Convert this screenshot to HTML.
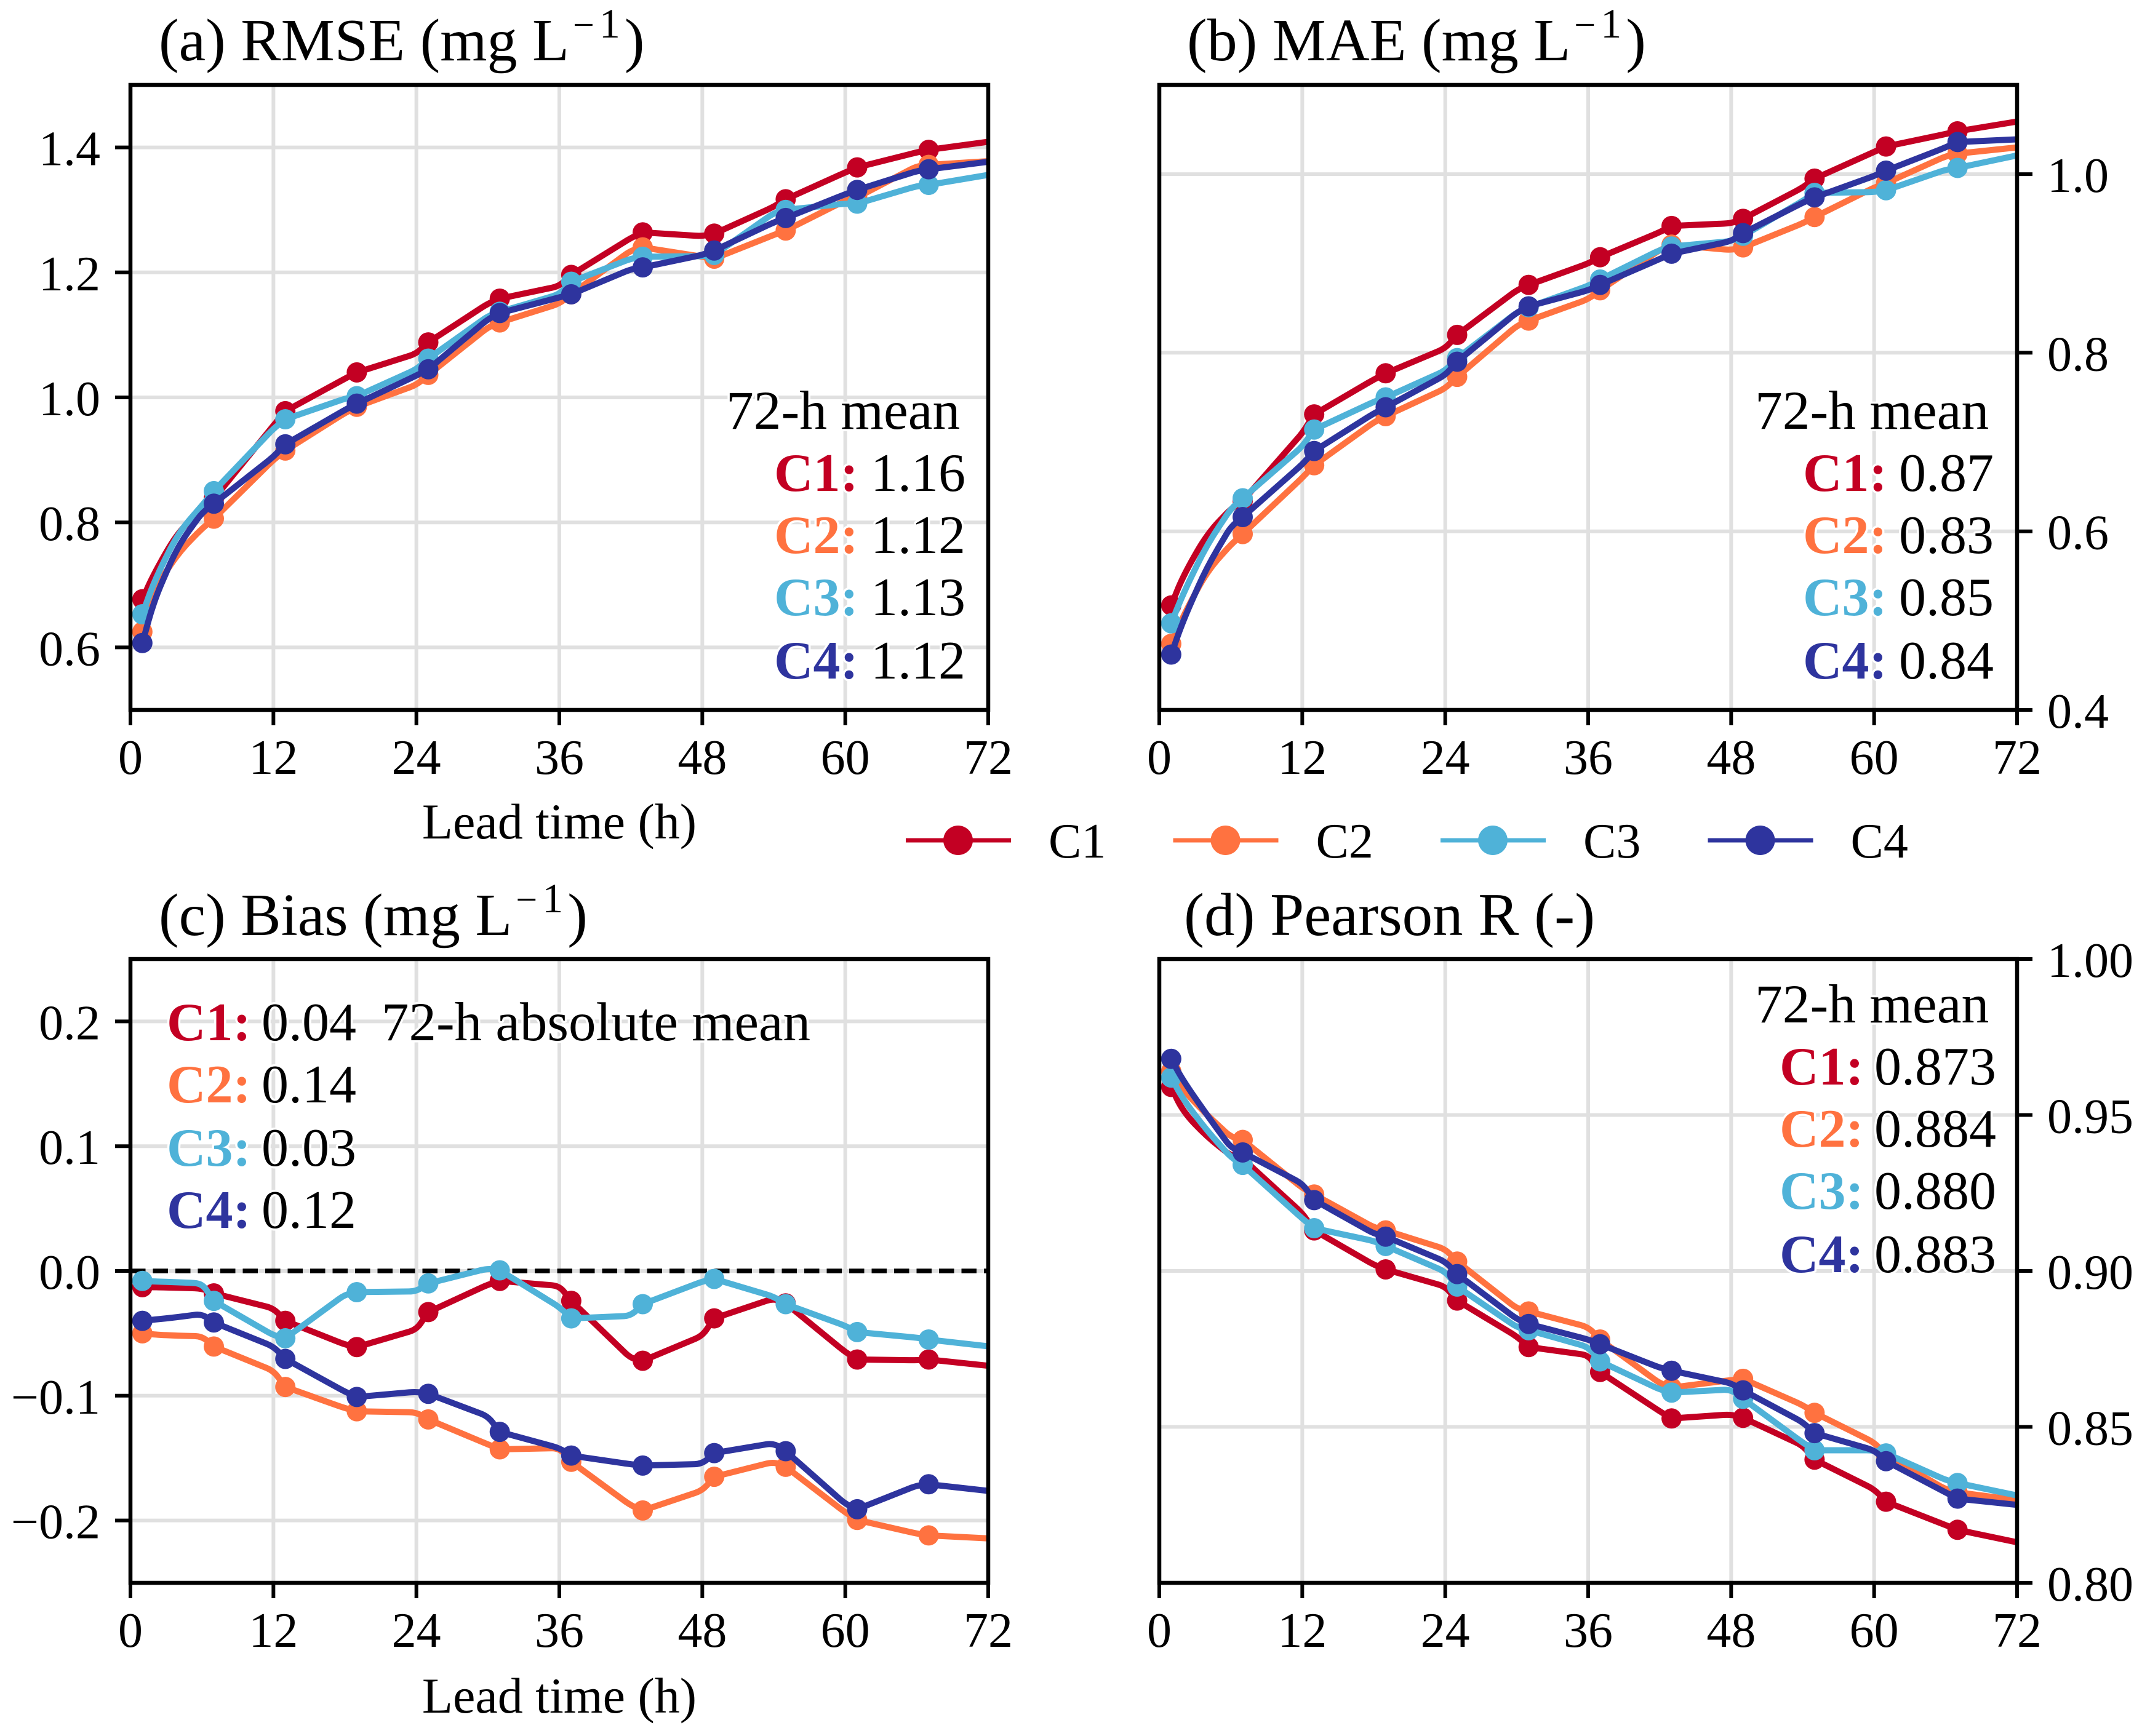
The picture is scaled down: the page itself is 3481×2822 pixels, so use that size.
<!DOCTYPE html>
<html lang="en">
<head>
<meta charset="utf-8">
<title>Lead time verification metrics</title>
<style>
html,body{margin:0;padding:0;background:#fff;}
svg{display:block;font-family:"Liberation Serif",serif;}
</style>
</head>
<body>
<svg id="fig" xmlns="http://www.w3.org/2000/svg" width="3481" height="2822" viewBox="0 0 3481 2822"></svg>
<script>
const lineHours = [1,2,4,6,7,12,13,18,19,24,25,30,31,36,37,42,43,48,49,54,55,60,61,66,67,72];
const markerHours = [1,7,13,19,25,31,37,43,49,55,61,67];
const seriesNames = ['C1','C2','C3','C4'];
const seriesColors = ['#c30023','#ff7240','#4fb2d8','#2e349e'];
const xTicks = [0,12,24,36,48,60,72];

const rmseC1 = [.677,.719,.785,.82,.838,.955,.978,1.03,1.04,1.07,1.088,1.15,1.158,1.178,1.196,1.255,1.264,1.258,1.262,1.305,1.317,1.36,1.368,1.392,1.396,1.409];
const rmseC2 = [.625,.692,.751,.79,.806,.9,.915,.975,.985,1.02,1.036,1.112,1.12,1.15,1.165,1.235,1.24,1.225,1.222,1.26,1.267,1.315,1.32,1.37,1.372,1.378];
const rmseC3 = [.653,.706,.783,.827,.85,.95,.965,.998,1.002,1.045,1.062,1.13,1.137,1.165,1.185,1.222,1.225,1.226,1.228,1.295,1.3,1.31,1.31,1.338,1.34,1.356];
const rmseC4 = [.607,.676,.763,.815,.83,.905,.925,.98,.99,1.035,1.045,1.125,1.135,1.16,1.165,1.205,1.208,1.228,1.235,1.28,1.287,1.325,1.332,1.362,1.365,1.377];

const maeC1 = [.517,.55,.597,.625,.634,.71,.731,.77,.777,.805,.82,.87,.876,.9,.907,.935,.942,.945,.95,.985,.995,1.025,1.031,1.045,1.048,1.059];
const maeC2 = [.474,.505,.555,.585,.597,.66,.674,.722,.729,.76,.773,.83,.836,.86,.87,.915,.921,.915,.918,.945,.952,.985,.99,1.02,1.023,1.03];
const maeC3 = [.497,.53,.585,.625,.637,.695,.714,.745,.75,.78,.794,.845,.851,.875,.882,.915,.919,.925,.931,.97,.979,.98,.982,1.005,1.007,1.021];
const maeC4 = [.462,.5,.56,.605,.616,.675,.69,.732,.739,.775,.79,.845,.852,.87,.876,.905,.911,.925,.934,.968,.974,.998,1.004,1.03,1.036,1.039];

const biasC1 = [-.013,-.013,-.0135,-.014,-.018,-.03,-.04,-.059,-.061,-.047,-.033,-.011,-.008,-.012,-.024,-.07,-.072,-.052,-.038,-.022,-.026,-.065,-.071,-.0716,-.071,-.076];
const biasC2 = [-.05,-.051,-.052,-.0523,-.0606,-.08,-.093,-.11,-.1125,-.1133,-.119,-.139,-.143,-.142,-.153,-.188,-.192,-.176,-.165,-.153,-.157,-.1936,-.1996,-.2105,-.212,-.2144];
const biasC3 = [-.008,-.0085,-.009,-.01,-.024,-.0516,-.054,-.019,-.017,-.0164,-.01,.002,.0005,-.029,-.038,-.036,-.0266,-.0085,-.0064,-.0206,-.0266,-.044,-.049,-.0535,-.055,-.0604];
const biasC4 = [-.04,-.039,-.037,-.0344,-.0413,-.0606,-.0705,-.0968,-.101,-.0968,-.0985,-.1165,-.129,-.142,-.148,-.155,-.156,-.1547,-.146,-.138,-.1445,-.1867,-.191,-.172,-.171,-.1763];

const pearsonC1 = [.959,.951,.943,.937,.936,.9185,.913,.902,.9005,.895,.8905,.879,.8756,.873,.8676,.855,.8527,.854,.8529,.844,.8395,.83,.826,.8185,.817,.813];
const pearsonC2 = [.964,.958,.95,.943,.942,.9266,.9245,.914,.913,.907,.903,.888,.887,.882,.878,.864,.8626,.865,.8654,.857,.8545,.845,.841,.83,.829,.8265];
const pearsonC3 = [.962,.955,.945,.9365,.934,.9168,.9137,.9096,.908,.8998,.895,.882,.881,.8756,.871,.862,.861,.862,.859,.845,.8425,.8425,.8415,.833,.832,.828];
const pearsonC4 = [.968,.961,.95,.9396,.938,.928,.9227,.912,.911,.903,.899,.8846,.883,.878,.8765,.869,.868,.864,.8617,.8515,.848,.8425,.839,.829,.827,.825];

const rmseTicks = [0.6,0.8,1.0,1.2,1.4];
const maeTicks = [0.4,0.6,0.8,1.0];
const biasTicks = [-0.2,-0.1,0.0,0.1,0.2];
const pearsonTicks = [0.80,0.85,0.90,0.95,1.00];

const rmseMeans = ['1.16','1.12','1.13','1.12'];
const maeMeans = ['0.87','0.83','0.85','0.84'];
const biasMeans = ['0.04','0.14','0.03','0.12'];
const pearsonMeans = ['0.873','0.884','0.880','0.883'];

const NS = 'http://www.w3.org/2000/svg';
const fig = document.getElementById('fig');

function make(tag, attrs, parent){
  const el = document.createElementNS(NS, tag);
  for (const k in attrs) el.setAttribute(k, attrs[k]);
  (parent || fig).appendChild(el);
  return el;
}

function roundedPath(xs, ys, radius, hours){
  const n = xs.length;
  let s = 'M' + xs[0].toFixed(1) + ' ' + ys[0].toFixed(1);
  for (let i = 1; i < n - 1; i++) {
    const ax = xs[i - 1] - xs[i], ay = ys[i - 1] - ys[i];
    const bx = xs[i + 1] - xs[i], by = ys[i + 1] - ys[i];
    const la = Math.hypot(ax, ay) || 1, lb = Math.hypot(bx, by) || 1;
    const want = hours[i] < 6 ? radius * 3 : radius;
    const ra = Math.min(want, la / 2), rb = Math.min(want, lb / 2);
    s += 'L' + (xs[i] + ax / la * ra).toFixed(1) + ' ' + (ys[i] + ay / la * ra).toFixed(1);
    s += 'Q' + xs[i].toFixed(1) + ' ' + ys[i].toFixed(1) + ' ' +
         (xs[i] + bx / lb * rb).toFixed(1) + ' ' + (ys[i] + by / lb * rb).toFixed(1);
  }
  s += 'L' + xs[n - 1].toFixed(1) + ' ' + ys[n - 1].toFixed(1);
  return s;
}

function tickText(v, digits){
  return (v < 0 ? '\u2212' : '') + Math.abs(v).toFixed(digits);
}

function drawPanel(p){
  const g = make('g', {});
  
  
  const xScale = h => p.left + (h / 72) * (p.right - p.left);
  const yScale = v => p.bottom - (v - p.ymin) / (p.ymax - p.ymin) * (p.bottom - p.top);

  const clipId = 'clip-' + p.id;
  const cp = make('clipPath', {id: clipId}, g);
  make('rect', {x: p.left, y: p.top, width: p.right - p.left, height: p.bottom - p.top}, cp);

  xTicks.forEach(t => {
    if (t === 0 || t === 72) return;
    const line = make('line', {x1: xScale(t), x2: xScale(t), y1: p.top, y2: p.bottom, stroke: '#e0e0e0', 'stroke-width': 6}, g);
    
    
  });
  p.yTicks.forEach(t => {
    if (yScale(t) <= p.top + 1 || yScale(t) >= p.bottom - 1) return;
    const line = make('line', {x1: p.left, x2: p.right, y1: yScale(t), y2: yScale(t), stroke: '#e0e0e0', 'stroke-width': 6}, g);
    
    
  });

  if (p.zeroLine) {
    const zero = make('line', {x1: p.left, x2: p.right, y1: yScale(0), y2: yScale(0), stroke: '#000', 'stroke-width': 7.5, 'stroke-dasharray': '24.5 12'}, g);
    
    
  }

  p.series.forEach((vals, i) => {
    const sg = make('g', {'clip-path': 'url(#' + clipId + ')'}, g);
    
    
    const path = make('path', {
      d: roundedPath(lineHours.map(xScale), vals.map(yScale), 12, lineHours),
      fill: 'none', stroke: seriesColors[i], 'stroke-width': 10, 'stroke-linejoin': 'round'
    }, sg);
    
    
    lineHours.forEach((h, k) => {
      if (markerHours.indexOf(h) < 0) return;
      const dot = make('circle', {cx: xScale(h), cy: yScale(vals[k]), r: 16.5, fill: seriesColors[i]}, sg);
      
      
    });
  });

  p.notes.forEach(n => {
    const t = make('text', {x: n.x, y: n.y, 'font-size': n.size || 88, fill: n.color || '#000',
      'font-weight': n.bold ? 'bold' : 'normal', stroke: '#fff', 'stroke-width': 7, 'paint-order': 'stroke', 'stroke-linejoin': 'round'}, g);
    t.textContent = n.text;
    
    
  });

  const frame = make('rect', {x: p.left, y: p.top, width: p.right - p.left, height: p.bottom - p.top, fill: 'none', stroke: '#000', 'stroke-width': 6.5}, g);
  
  

  xTicks.forEach(t => {
    const tick = make('line', {x1: xScale(t), x2: xScale(t), y1: p.bottom, y2: p.bottom + 25, stroke: '#000', 'stroke-width': 6}, g);
    
    
    const lab = make('text', {x: xScale(t), y: p.bottom + 104, 'font-size': 80, 'text-anchor': 'middle', fill: '#000'}, g);
    lab.textContent = String(t);
    
    
  });

  p.yTicks.forEach(t => {
    const y = yScale(t);
    const onRight = p.axisSide === 'right';
    const edge = onRight ? p.right : p.left;
    const tick = make('line', {x1: edge, x2: onRight ? edge + 25 : edge - 25, y1: y, y2: y, stroke: '#000', 'stroke-width': 6}, g);
    
    
    const lab = make('text', {x: onRight ? edge + 49 : edge - 49, y: y + 29, 'font-size': 80, 'text-anchor': onRight ? 'start' : 'end', fill: '#000'}, g);
    lab.textContent = tickText(t, p.digits);
    
    
  });

  const title = make('text', {x: p.titleX, y: p.titleY, 'font-size': p.titleSize || 98, fill: '#000'}, g);
  
  
  const ts1 = make('tspan', {}, title);
  ts1.textContent = p.title;
  if (p.sup) {
    const ts2 = make('tspan', {dx: 6, dy: -37, 'font-size': 62}, title);
    ts2.textContent = '\u2212';
    const ts2b = make('tspan', {dx: 8, 'font-size': 68}, title);
    ts2b.textContent = '1';
    const ts3 = make('tspan', {dx: 7, dy: 37}, title);
    ts3.textContent = ')';
  }

  if (p.xlabelY) {
    const xl = make('text', {x: (p.left + p.right) / 2, y: p.xlabelY, 'font-size': 82, 'text-anchor': 'middle', fill: '#000'}, g);
    xl.textContent = 'Lead time (h)';
    
    
  }
}

function noteSet(labelX, valueX, baselines, values){
  const out = [];
  seriesNames.forEach((s, i) => {
    out.push({x: labelX, y: baselines[i], text: s + ':', bold: true, color: seriesColors[i], name: 'mean-label-' + s});
    out.push({x: valueX, y: baselines[i], text: values[i], name: 'mean-value-' + s});
  });
  return out;
}

const topBase = [798, 899, 1000, 1103];

drawPanel({id: 'rmse', left: 212, right: 1606, top: 138, bottom: 1154, ymin: 0.5, ymax: 1.5,
  yTicks: rmseTicks, digits: 1, axisSide: 'left', series: [rmseC1, rmseC2, rmseC3, rmseC4],
  title: '(a) RMSE (mg L', sup: true, titleX: 258, titleY: 98, xlabelY: 1363,
  notes: [{x: 1180, y: 697, size: 89.5, text: '72-h mean', name: 'mean-heading'}].concat(noteSet(1258, 1415, topBase, rmseMeans))});

drawPanel({id: 'mae', left: 1884, right: 3278, top: 138, bottom: 1154, ymin: 0.4, ymax: 1.1,
  yTicks: maeTicks, digits: 1, axisSide: 'right', series: [maeC1, maeC2, maeC3, maeC4],
  title: '(b) MAE (mg L', sup: true, titleX: 1929, titleY: 98,
  notes: [{x: 2852, y: 697, size: 89.5, text: '72-h mean', name: 'mean-heading'}].concat(noteSet(2930, 3086, topBase, maeMeans))});

drawPanel({id: 'bias', left: 212, right: 1606, top: 1559, bottom: 2573, ymin: -0.25, ymax: 0.25,
  yTicks: biasTicks, digits: 1, axisSide: 'left', series: [biasC1, biasC2, biasC3, biasC4], zeroLine: true,
  title: '(c) Bias (mg L', sup: true, titleX: 258, titleY: 1520, xlabelY: 2784,
  notes: noteSet(271, 425, [1691, 1792, 1895, 1996], biasMeans).concat([{x: 620, y: 1691, size: 89, text: '72-h absolute mean', name: 'mean-heading'}])});

drawPanel({id: 'pearson', left: 1884, right: 3278, top: 1559, bottom: 2573, ymin: 0.80, ymax: 1.00,
  yTicks: pearsonTicks, digits: 2, axisSide: 'right', series: [pearsonC1, pearsonC2, pearsonC3, pearsonC4],
  title: '(d) Pearson R (-)', titleSize: 99, titleX: 1924, titleY: 1520,
  notes: [{x: 2852, y: 1662, size: 89.5, text: '72-h mean', name: 'mean-heading'}].concat(noteSet(2892, 3046, [1763, 1864, 1965, 2068], pearsonMeans))});

const legend = make('g', {});


seriesNames.forEach((s, i) => {
  const entry = make('g', {transform: 'translate(' + (434.5 * i) + ' 0)'}, legend);
  
  
  make('line', {x1: 1472, x2: 1643, y1: 1366, y2: 1366, stroke: seriesColors[i], 'stroke-width': 7}, entry);
  make('circle', {cx: 1557, cy: 1366, r: 24, fill: seriesColors[i]}, entry);
  const txt = make('text', {x: 1704, y: 1394, 'font-size': 80, fill: '#000'}, entry);
  txt.textContent = s;
});
</script>
</body>
</html>
